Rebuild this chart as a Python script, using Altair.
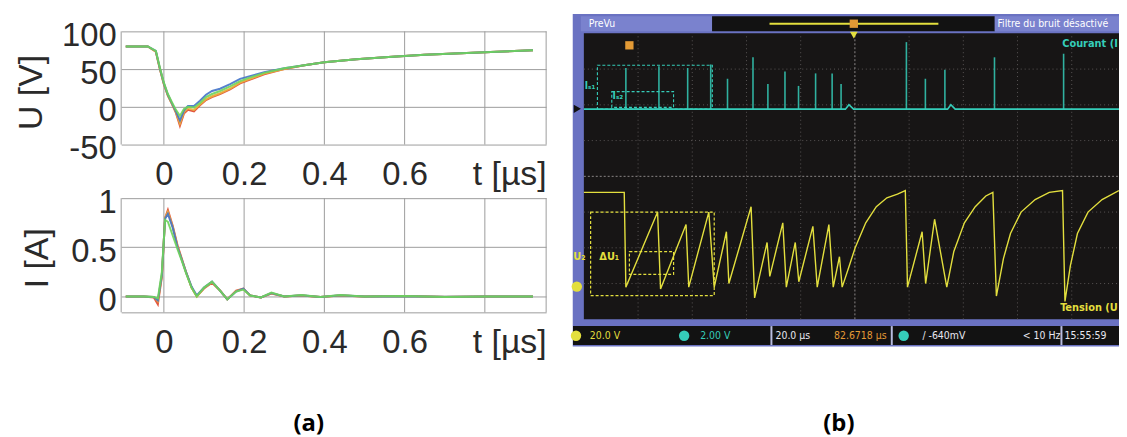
import altair as alt
import pandas as pd

W, H = 1119, 429
SANS = "Liberation Sans"
NARROW = "Liberation Sans Narrow, DejaVu Sans Condensed, Liberation Sans"
BOLD = "Open Sans"

# ---------------- panel (a): U(t) ----------------
t_u = [-0.095, -0.04, -0.02, -0.01, 0.0, 0.01, 0.02, 0.03, 0.04, 0.05, 0.06, 0.075, 0.09,
       0.105, 0.12, 0.14, 0.165, 0.19, 0.21, 0.25, 0.3, 0.35, 0.4, 0.48, 0.56, 0.65, 0.74, 0.83, 0.92]
u_red = [80, 80, 73, 50, 30, 15, 4, -8, -25, -9, -4, -6, 2, 9, 13, 17, 23, 31, 35, 43, 50, 55, 59, 63, 66, 69, 71, 73, 75]
u_orange = [80, 80, 73, 50, 30, 15, 4, -7, -22, -7, -2, -4, 3, 10, 14, 18, 24, 32, 36, 44, 50, 55, 59, 63, 66, 69, 71, 73, 75]
u_blue = [80, 80, 74, 51, 31, 16, 5, -6, -18, -5, 1, 1, 8, 16, 21, 24, 30, 37, 40, 46, 51, 55, 59, 63, 66, 69, 71, 73, 75]
u_green = [80, 80, 74, 52, 32, 17, 6, -4, -12, -3, 0, -1, 5, 13, 17, 21, 27, 34, 38, 45, 51, 55, 59, 63, 66, 69, 71, 73, 75]

# ---------------- panel (a): I(t) ----------------
t_i = [-0.095, -0.05, -0.025, -0.015, -0.005, 0.003, 0.01, 0.022, 0.034, 0.045, 0.055, 0.069, 0.082,
       0.1, 0.12, 0.14, 0.158, 0.18, 0.198, 0.215, 0.242, 0.268, 0.3, 0.343, 0.39, 0.44, 0.5, 0.6, 0.7, 0.8, 0.92]
i_red = [0, 0, -0.01, -0.08, 0.2, 0.8, 0.88, 0.72, 0.52, 0.38, 0.25, 0.09, 0.0, 0.08, 0.14, 0.06, -0.03,
         0.06, 0.08, 0.01, -0.01, 0.03, 0.0, 0.01, -0.005, 0.01, 0.0, 0.005, -0.005, 0.0, 0.0]
i_orange = [0, 0, -0.005, -0.05, 0.21, 0.8, 0.86, 0.71, 0.51, 0.37, 0.25, 0.09, 0.0, 0.085, 0.145, 0.06, -0.03,
            0.055, 0.075, 0.01, -0.01, 0.032, 0.0, 0.01, -0.005, 0.01, 0.0, 0.004, -0.004, 0.0, 0.0]
i_blue = [0, 0, -0.005, -0.04, 0.22, 0.79, 0.84, 0.7, 0.5, 0.37, 0.25, 0.1, 0.01, 0.09, 0.15, 0.06, -0.03,
          0.05, 0.08, 0.01, -0.01, 0.035, 0.0, 0.012, -0.005, 0.012, 0.0, 0.003, -0.004, 0.0, 0.0]
i_green = [0, 0, -0.005, -0.02, 0.25, 0.78, 0.76, 0.62, 0.48, 0.36, 0.24, 0.09, 0.0, 0.09, 0.15, 0.06, -0.03,
           0.05, 0.07, 0.01, -0.01, 0.04, 0.0, 0.015, -0.005, 0.014, 0.0, 0.005, -0.005, 0.0, 0.0]

series_names = ["red", "orange", "blue", "green"]
series_colors = ["#e0452b", "#e9b23c", "#4373c9", "#6fd45a"]

t_ticks = [0, 0.2, 0.4, 0.6, 0.8]
u_ticks = [-50, 0, 50, 100]
i_ticks = [0, 0.5, 1]
T_MIN, T_MAX = -0.1064, 0.9527
U_MIN, U_MAX = -50, 100
I_MIN, I_MAX = -0.162, 1.0

# ---------------- panel (b): oscilloscope ----------------
# channel 1 (yellow, V) vs time (µs)
osc_t = [0, 14.9, 15.5, 27.2, 28.3, 37.7, 38.7, 46.1, 48.1, 52.6, 53.5, 61.7, 63.0, 67.6, 68.6, 73.4, 74.7,
         78.0, 79.3, 84.5, 86.1, 90.4, 92.0, 94.3, 95.3, 97.5, 100.1, 104.0, 107.9, 111.8, 115.7, 118.6, 119.4,
         124.8, 126.1, 129.4, 133.9, 136.5, 140.4, 144.4, 148.3, 150.9, 152.2, 154.8, 157.4, 161.3, 166.5,
         171.7, 176.6, 177.5, 179.5, 182.1, 186.0, 191.2, 197.4]
osc_u = [51, 51, -2, 40, -3, 33, -2, 40, -2, 29, 0, 43, -8, 23, 4, 34, -2, 23, 1, 32, -2, 33, -2, 15, -2,
         8, 20, 34, 43, 48, 50, 52, -2, 29, 0, 36, -2, 18, 34, 43, 49, 51, -7, 14, 28, 40, 47, 51, 52,
         -10, 10, 28, 40, 47, 52]
# channel 2 (cyan): discharge current spikes
spike_t = [15.5, 27.7, 38.3, 46.8, 53.0, 62.4, 67.9, 74.2, 79.2, 85.5, 91.6, 94.9, 119.0, 126.0, 133.2, 151.5, 177.0]
spike_h = [2.3, 2.4, 2.3, 2.5, 1.7, 2.9, 1.4, 2.1, 1.3, 2.0, 2.0, 1.4, 3.75, 1.7, 2.2, 2.9, 3.1]
base_t = [0, 96.5, 97.8, 99.5, 134.2, 135.4, 137.0, 200]
base_i = [0, 0, 0.25, 0, 0, 0.25, 0, 0]

grid_t = [20, 40, 60, 80, 120, 140, 160, 180]
grid_v = [0, 20, 40, 80, 100, 120]

status_text = ["20.0 V", "2.00 V", "20.0 µs", "82.6718 µs", "/ -640mV", "< 10 Hz", "15:55:59"]
status_t = [2.2, 42.9, 70.7, 92.3, 124.9, 161.9, 177.3]

YEL, CYA, WHT, ORG = "#e3df3e", "#35cdb9", "#e8e8f0", "#e39a35"
FRAME, BAR = "#6a72c2", "#7a82ce"
GRID = "#9c9c9c"

# ---------------- helpers ----------------
AX = dict(labelFont=SANS, labelFontSize=33, labelColor="#2a2a2a", titleFont=SANS, titleFontSize=34,
          titleFontWeight="normal", titleColor="#2a2a2a", gridColor=GRID, gridWidth=1,
          ticks=False, domain=False, labelOverlap=False, labelFlush=False, labelBound=False)

xs_a = alt.Scale(domain=[T_MIN, T_MAX], range=[114, 542], nice=False, zero=False)
ys_u = alt.Scale(domain=[U_MIN, U_MAX], range=[136, 22], nice=False, zero=False)
ys_i = alt.Scale(domain=[I_MIN, I_MAX], range=[305, 190], nice=False, zero=False)
xs_s = alt.Scale(domain=[0, 200], range=[580, 1126], nice=False, zero=False)
ys_s = alt.Scale(domain=[-20, 140], range=[312, 24], nice=False, zero=False)
ys_c = alt.Scale(domain=[-11.76, 4.24], range=[312, 24], nice=False, zero=False)


def x_axis(offset):
    return alt.Axis(orient="bottom", offset=offset, values=t_ticks, grid=False,
                    labelExpr="datum.value > 0.7 ? '' : '' + datum.value",
                    labelBaseline="middle", labelPadding=30,
                    title="t [µs]", titleX=542, titleY=30, titleAlign="right", titleBaseline="middle",
                    titleAngle=0, **AX)


def y_axis(values, expr, title, tx, ty):
    return alt.Axis(orient="left", offset=-114, values=values, labelExpr=expr, labelPadding=5, grid=True,
                    labelOffset=4, labelBaseline="middle", title=title, titleX=tx, titleY=ty,
                    titleAngle=-90, titleAlign="center", titleBaseline="middle", **AX)


u_df = pd.DataFrame({"t": t_u * 4, "v": u_red + u_orange + u_blue + u_green,
                     "s": sum([[n] * len(t_u) for n in series_names], [])})
i_df = pd.DataFrame({"t": t_i * 4, "v": i_red + i_orange + i_blue + i_green,
                     "s": sum([[n] * len(t_i) for n in series_names], [])})


def panel(df, ys, lo, hi, xa, ya):
    # vertical grid lines + left/right frame, drawn through the panel's own scales
    gx = [T_MIN] + t_ticks + [T_MAX]
    gdf = pd.DataFrame({"t": gx, "v0": [lo] * len(gx), "v1": [hi] * len(gx)})
    out = [alt.Chart(gdf).mark_rule(color=GRID, strokeWidth=1).encode(
        x=alt.X("t:Q", scale=xs_a, axis=xa), y=alt.Y("v0:Q", scale=ys, axis=ya), y2="v1:Q")]
    for n, c in zip(series_names, series_colors):
        out.append(alt.Chart(df).transform_filter(alt.datum.s == n)
                   .mark_line(color=c, strokeWidth=2, opacity=0.9)
                   .encode(x=alt.X("t:Q", scale=xs_a, axis=xa), y=alt.Y("v:Q", scale=ys, axis=ya)))
    return alt.layer(*out)


u_group = panel(u_df, ys_u, U_MIN, U_MAX, x_axis(136 - H),
                y_axis(u_ticks, "'' + datum.value", "U [V]", -90, 83))
i_group = panel(i_df, ys_i, I_MIN, I_MAX, x_axis(305 - H),
                y_axis([I_MIN] + i_ticks, "datum.value < -0.1 ? '' : '' + datum.value", "I [A]", -84, 250))


# ---------------- oscilloscope layers ----------------
def SX(f):
    return alt.X(f, scale=xs_s, axis=None)


def SY(f):
    return alt.Y(f, scale=ys_s, axis=None)


chrome = pd.DataFrame({
    "t0": [-4.1, -1.1, 47.3, 151.6, 0, -4.0],
    "t1": [210, 47.3, 151.6, 210, 210, 210],
    "v0": [-35.2, 141.2, 141.2, 141.2, -20, -34.4],
    "v1": [150.8, 149.6, 149.6, 149.6, 140, -23.8],
    "c": [FRAME, BAR, "#121212", BAR, "#171515", "#121212"]})
chrome_l = alt.Chart(chrome).mark_rect().encode(
    x=SX("t0:Q"), x2="t1:Q", y=SY("v0:Q"), y2="v1:Q", color=alt.Color("c:N", scale=None))

vgrid_df = pd.DataFrame({"t": grid_t, "v0": [-20] * len(grid_t), "v1": [140] * len(grid_t)})
hgrid_df = pd.DataFrame({"v": grid_v, "t0": [0] * len(grid_v), "t1": [210] * len(grid_v)})
vgrid = alt.Chart(vgrid_df).mark_rule(color="#5a5656", strokeDash=[1, 3]).encode(
    x=SX("t:Q"), y=SY("v0:Q"), y2="v1:Q")
hgrid = alt.Chart(hgrid_df).mark_rule(color="#5a5656", strokeDash=[1, 3]).encode(
    y=SY("v:Q"), x=SX("t0:Q"), x2="t1:Q")
vcen = alt.Chart(pd.DataFrame({"t": [100], "v0": [-20], "v1": [140]})).mark_rule(
    color="#8a8686", strokeDash=[2, 2]).encode(x=SX("t:Q"), y=SY("v0:Q"), y2="v1:Q")
hcen = alt.Chart(pd.DataFrame({"v": [60], "t0": [0], "t1": [210]})).mark_rule(
    color="#8a8686", strokeDash=[2, 2]).encode(y=SY("v:Q"), x=SX("t0:Q"), x2="t1:Q")

seps = alt.Chart(pd.DataFrame({"t": [69.2, 113.6, 176.2], "v0": [-34.4] * 3, "v1": [-23.8] * 3})).mark_rule(
    color="#b8bce0", strokeWidth=2).encode(x=SX("t:Q"), y=SY("v0:Q"), y2="v1:Q")
bar_line = alt.Chart(pd.DataFrame({"a": [68.5], "b": [130.8], "v": [145.4]})).mark_rule(
    color=YEL, strokeWidth=2).encode(x=SX("a:Q"), x2="b:Q", y=SY("v:Q"))

yel_trace = alt.Chart(pd.DataFrame({"t": osc_t, "u": osc_u})).mark_line(
    color=YEL, strokeWidth=1.4).encode(x=SX("t:Q"), y=SY("u:Q"))

ybox = pd.DataFrame({"t0": [2.5, 16.8], "t1": [48.1, 33.1], "v0": [-6.7, 5.1], "v1": [40, 17.9]})
ybox_l = alt.Chart(ybox).mark_rect(fill="transparent", stroke=YEL, strokeDash=[3, 2], strokeWidth=1.2).encode(
    x=SX("t0:Q"), x2="t1:Q", y=SY("v0:Q"), y2="v1:Q")

status_df = pd.DataFrame({"t": status_t, "v": [-29.2] * 7, "txt": status_text,
                          "c": [YEL, CYA, WHT, ORG, WHT, WHT, WHT]})
status_l = alt.Chart(status_df).mark_text(font=NARROW, fontSize=10.5, align="left", baseline="middle").encode(
    x=SX("t:Q"), y=SY("v:Q"), text="txt:N", color=alt.Color("c:N", scale=None))

bar_df = pd.DataFrame({"t": [1.8, 152.6], "v": [145.4, 145.4],
                       "txt": ["PreVu", "Filtre du bruit désactivé"]})
bar_txt = alt.Chart(bar_df).mark_text(font=NARROW, fontSize=10.5, align="left", baseline="middle",
                                      color="#ffffff").encode(x=SX("t:Q"), y=SY("v:Q"), text="txt:N")

edge_df = pd.DataFrame({"t": [197.0, 197.0], "v": [134, -13.9], "txt": ["Courant (I", "Tension (U"],
                        "c": [CYA, YEL]})
edge_txt = alt.Chart(edge_df).mark_text(font=NARROW, fontSize=11, fontWeight="bold", align="right",
                                        baseline="middle").encode(
    x=SX("t:Q"), y=SY("v:Q"), text="txt:N", color=alt.Color("c:N", scale=None))

lab_df = pd.DataFrame({"t": [-3.9, 5.7], "v": [15, 15], "txt": ["U₂", "ΔU₁"]})
lab_txt = alt.Chart(lab_df).mark_text(font=NARROW, fontSize=11, fontWeight="bold", align="left",
                                      baseline="middle", color=YEL).encode(
    x=SX("t:Q"), y=SY("v:Q"), text="txt:N")

dots = pd.DataFrame({"t": [-2.9, 37.0, 118.0, -2.6], "v": [-29.2, -29.2, -29.2, -1.7],
                     "c": [YEL, CYA, CYA, YEL]})
dots_l = alt.Chart(dots).mark_circle(size=110, opacity=1).encode(
    x=SX("t:Q"), y=SY("v:Q"), color=alt.Color("c:N", scale=None))
trig = alt.Chart(pd.DataFrame({"t": [16.8, 99.6], "v": [133.3, 145.4]})).mark_square(
    size=70, color=ORG, opacity=1).encode(x=SX("t:Q"), y=SY("v:Q"))
tri = alt.Chart(pd.DataFrame({"t": [99.6], "v": [139.0]})).mark_point(
    shape="triangle-down", size=60, filled=True, color=YEL, opacity=1).encode(x=SX("t:Q"), y=SY("v:Q"))
left_mark = alt.Chart(pd.DataFrame({"t": [-2.4], "v": [97.8]})).mark_point(
    shape="triangle-right", size=70, filled=True, color="#111", opacity=1).encode(x=SX("t:Q"), y=SY("v:Q"))

# panel captions, placed in the oscilloscope's coordinate frame
cap_df = pd.DataFrame({"t": [-101.5, 94.1], "v": [-78.5, -78.5], "lab": ["(a)", "(b)"]})
captions = alt.Chart(cap_df).mark_text(font=BOLD, fontWeight="bold", fontSize=24, color="#000",
                                       baseline="middle").encode(x=SX("t:Q"), y=SY("v:Q"), text="lab:N")

s_group = alt.layer(chrome_l, vgrid, hgrid, vcen, hcen, seps, bar_line, ybox_l, yel_trace,
                    status_l, bar_txt, edge_txt, lab_txt, dots_l, trig, tri, left_mark, captions)


# cyan channel (own vertical scale)
def CX(f):
    return alt.X(f, scale=xs_s, axis=None)


def CY(f):
    return alt.Y(f, scale=ys_c, axis=None)


cyan_base = alt.Chart(pd.DataFrame({"t": base_t, "i": base_i})).mark_line(color=CYA, strokeWidth=1.6).encode(
    x=CX("t:Q"), y=CY("i:Q"))
cyan_spikes = alt.Chart(pd.DataFrame({"t": spike_t, "b": [0] * len(spike_t), "h": spike_h})).mark_rule(
    color=CYA, strokeWidth=1.6, opacity=0.85).encode(x=CX("t:Q"), y=CY("b:Q"), y2="h:Q")
cbox = pd.DataFrame({"t0": [5.0, 10.3], "t1": [47.4, 33.1], "v0": [0.0, 0.1], "v1": [2.46, 0.98]})
cbox_l = alt.Chart(cbox).mark_rect(fill="transparent", stroke=CYA, strokeDash=[3, 2], strokeWidth=1.1).encode(
    x=CX("t0:Q"), x2="t1:Q", y=CY("v0:Q"), y2="v1:Q")
ctext = alt.Chart(pd.DataFrame({"t": [0.3, 10.6], "i": [1.3, 0.75], "txt": ["Iₛ₁", "Iₛ₂"]})).mark_text(
    font=NARROW, fontSize=10, fontWeight="bold", color=CYA, align="left", baseline="middle").encode(
    x=CX("t:Q"), y=CY("i:Q"), text="txt:N")
c_group = alt.layer(cbox_l, cyan_base, cyan_spikes, ctext)

chart = alt.layer(u_group, i_group, s_group, c_group).resolve_scale(
    x="independent", y="independent").properties(
    width=W, height=H, padding=0, autosize=alt.AutoSizeParams(type="none"),
    background="white").configure_view(stroke="transparent")

chart.save("out.html", embed_options={"renderer": "svg", "actions": False})
